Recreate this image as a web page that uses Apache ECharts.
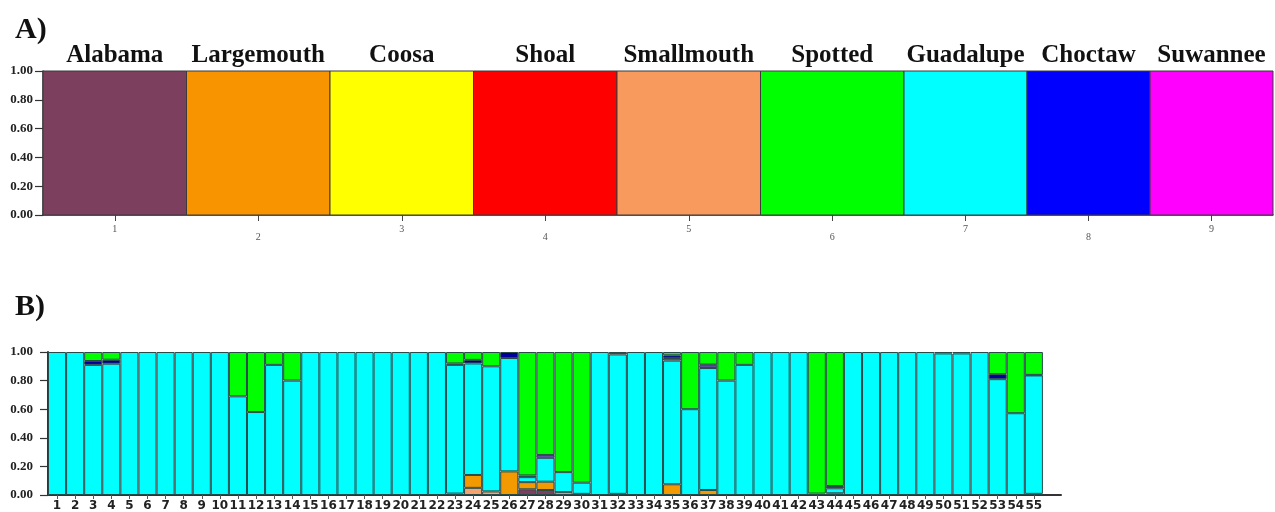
<!DOCTYPE html>
<html><head><meta charset="utf-8">
<script src="https://cdn.jsdelivr.net/npm/echarts@6/dist/echarts.min.js"></script>
<style>html,body{margin:0;padding:0;background:#fff}#c{width:1275px;height:512px}</style>
</head><body><div id="c"></div>
<script>
// ---------- Panel A ----------
const populations = ['Alabama','Largemouth','Coosa','Shoal','Smallmouth','Spotted','Guadalupe','Choctaw','Suwannee'];
const sampleSizes = [35,35,35,35,35,35,30,30,30];
const membershipA = [1,1,1,1,1,1,1,1,1];
const popColors = ['#7C3F5E','#F79400','#FFFF00','#FF0000','#F89A5E','#00FF00','#00FFFF','#0000FF','#FF00FF'];
const yTicks = [0,0.2,0.4,0.6,0.8,1.0];

// ---------- Panel B ----------
const samplesB = ['1','2','3','4','5','6','7','8','9','10','11','12','13','14','15','16','17','18','19','20',
  '21','22','23','24','25','26','27','28','29','30','31','32','33','34','35','36','37','38','39','40',
  '41','42','43','44','45','46','47','48','49','50','51','52','53','54','55'];
const alabamaB = [0,0,0,0,0,0,0,0,0,0, 0,0,0,0,0,0,0,0,0,0, 0,0,0.01,0,0,0,0.04,0.035,0,0.008,
  0,0.008,0,0,0,0,0,0,0,0, 0,0,0,0,0,0,0,0,0,0, 0,0,0,0,0.008];
const smallmouthB = [0,0,0,0,0,0,0,0,0,0, 0,0,0,0,0,0,0,0,0,0, 0,0,0,0.05,0.025,0,0,0,0.02,0,
  0,0,0,0,0,0,0,0,0,0, 0,0,0,0,0,0,0,0,0,0, 0,0,0,0,0];
const largemouthB = [0,0,0,0,0,0,0,0,0,0, 0,0,0,0,0,0,0,0,0,0, 0,0,0,0.09,0,0.165,0.05,0.058,0,0,
  0,0,0,0,0.075,0,0.035,0,0,0, 0,0,0,0.012,0,0,0,0,0,0, 0,0,0,0,0];
const guadalupeB = [1,1,0.91,0.918,1,1,1,1,1,1, 0.69,0.58,0.91,0.80,1,1,1,1,1,1,
  1,1,0.90,0.78,0.875,0.793,0.035,0.167,0.14,0.078, 1,0.975,1,1,0.865,0.60,0.853,0.80,0.91,1,
  1,1,0.01,0.035,1,1,1,1,1,0.99, 0.99,1,0.81,0.572,0.828];
const violetB = [0,0,0,0,0,0,0,0,0,0, 0,0,0,0,0,0,0,0,0,0, 0,0,0,0,0,0,0,0.02,0,0,
  0,0,0,0,0.018,0,0.019,0,0,0, 0,0,0,0,0,0,0,0,0,0, 0,0,0,0,0];
const choctawB = [0,0,0.027,0.028,0,0,0,0,0,0, 0,0,0,0,0,0,0,0,0,0, 0,0,0.01,0.025,0,0.042,0.012,0,0,0,
  0,0,0,0,0.019,0,0.005,0,0,0, 0,0,0,0.016,0,0,0,0,0,0.01, 0.01,0,0.035,0,0.004];
const shoalB = [0,0,0,0,0,0,0,0,0,0, 0,0,0,0,0,0,0,0,0,0, 0,0,0,0,0,0,0,0,0,0,
  0,0.017,0,0,0,0,0,0,0,0, 0,0,0,0,0,0,0,0,0,0, 0,0,0,0,0];
const spottedB = [0,0,0.063,0.054,0,0,0,0,0,0, 0.31,0.42,0.09,0.20,0,0,0,0,0,0,
  0,0,0.08,0.055,0.10,0,0.863,0.72,0.84,0.914, 0,0,0,0,0.023,0.40,0.088,0.20,0.09,0,
  0,0,0.99,0.937,0,0,0,0,0,0, 0,0,0.155,0.428,0.16];

const seriesB = [
  {name:'Alabama', data:alabamaB, color:'#7C3F5E'},
  {name:'Smallmouth', data:smallmouthB, color:'#F4A470'},
  {name:'Largemouth', data:largemouthB, color:'#F39A00'},
  {name:'Guadalupe', data:guadalupeB, color:'#00FFFF'},
  {name:'Other', data:violetB, color:'#6E55C0'},
  {name:'Choctaw', data:choctawB, color:'#00009A'},
  {name:'Shoal', data:shoalB, color:'#E00000'},
  {name:'Spotted', data:spottedB, color:'#00FF00'}
];

// build panel A rectangles from sample sizes
const startsA = [];
let acc = 0;
sampleSizes.forEach(s => { startsA.push(acc); acc += s; });
const totalA = acc;
const centersA = startsA.map((s,i) => s + sampleSizes[i]/2);
const dataA = populations.map((p,i) => [startsA[i], startsA[i] + sampleSizes[i], membershipA[i], i]);
const idxOf = v => centersA.findIndex(c => Math.abs(c - v) < 1e-6);

const serif = 'Liberation Serif';
const yAxisCommon = (grid, margin, lw) => ({
  gridIndex: grid, type:'value', min:0, max:1,
  splitLine:{show:false},
  axisLine:{show:true, lineStyle:{color:'#333', width:lw}},
  axisTick:{show:true, customValues:yTicks, length:8, lineStyle:{color:'#333', width:1.2}},
  axisLabel:{customValues:yTicks, formatter:v => v.toFixed(2), fontFamily:serif, fontWeight:'bold',
    fontSize:13, color:'#222', margin:margin}
});

const chart = echarts.init(document.getElementById('c'));
chart.setOption({
  backgroundColor:'#fff',
  animation:false,
  title:[
    {text:'A)', left:10, top:10, textStyle:{fontFamily:serif, fontWeight:'bold', fontSize:30, color:'#111'}},
    {text:'B)', left:10, top:287, textStyle:{fontFamily:serif, fontWeight:'bold', fontSize:30, color:'#111'}}
  ],
  grid:[
    {left:43, right:2, top:71, height:144},
    {left:48, right:214, top:352, height:144}
  ],
  xAxis:[
    {gridIndex:0, type:'value', min:0, max:totalA, splitLine:{show:false},
     axisLine:{lineStyle:{color:'#333', width:1.5}},
     axisTick:{customValues:centersA, length:6, lineStyle:{color:'#444'}},
     axisLabel:{customValues:centersA, margin:9,
       formatter:v => { const i = idxOf(v); return (i % 2 === 0 ? '{o|' : '{e|') + (i+1) + '}'; },
       rich:{o:{fontFamily:serif, fontSize:10, color:'#555'},
             e:{fontFamily:serif, fontSize:10, color:'#555', padding:[8,0,0,0]}}}},
    {gridIndex:0, type:'value', position:'top', min:0, max:totalA, splitLine:{show:false},
     axisLine:{show:false}, axisTick:{show:false},
     axisLabel:{customValues:centersA, margin:3, formatter:v => populations[idxOf(v)],
       fontFamily:serif, fontWeight:'bold', fontSize:25, color:'#111'}},
    {gridIndex:1, type:'category', data:samplesB.concat(['']),
     axisLine:{lineStyle:{color:'#333', width:2}},
     axisTick:{show:true, alignWithLabel:true, length:4, interval:(i) => i < samplesB.length, lineStyle:{color:'#555'}},
     axisLabel:{interval:0, fontFamily:'DejaVu Sans', fontWeight:'bold', fontSize:12, color:'#222', margin:5}}
  ],
  yAxis:[ yAxisCommon(0, 10, 1.5), yAxisCommon(1, 15, 2) ],
  series:[
    {type:'custom', xAxisIndex:0, yAxisIndex:0, encode:{x:[0,1], y:2}, data:dataA,
     renderItem:(params, api) => {
       const p0 = api.coord([api.value(0), 0]);
       const p1 = api.coord([api.value(1), api.value(2)]);
       return {type:'rect', shape:{x:p0[0], y:p1[1], width:p1[0]-p0[0], height:p0[1]-p1[1]},
         style:{fill:popColors[api.value(3)], stroke:'#3a3a3a', lineWidth:1}};
     }}
  ].concat(seriesB.map(s => ({
    type:'bar', name:s.name, stack:'q', xAxisIndex:2, yAxisIndex:1,
    barWidth:'100%', barCategoryGap:'0%',
    data:s.data.map(v => v === 0 ? '-' : v),
    itemStyle:{color:s.color, borderColor:'#2a4a4a', borderWidth:1}
  })))
});
</script></body></html>
